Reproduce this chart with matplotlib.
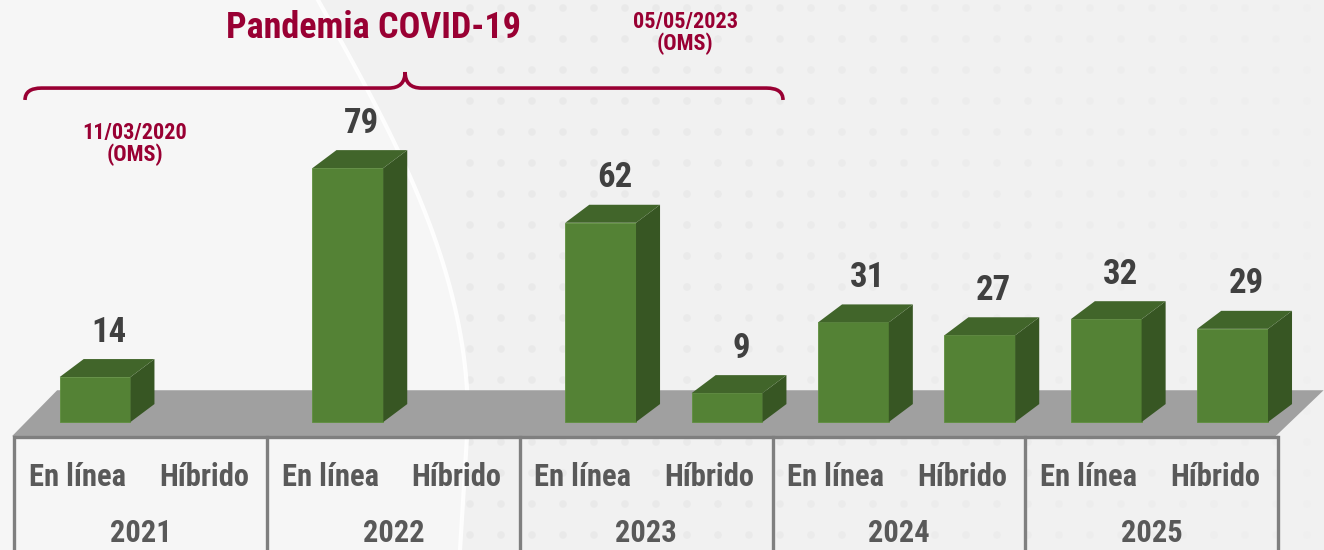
import matplotlib.pyplot as plt
import numpy as np
from matplotlib.patches import Polygon, PathPatch
from matplotlib.path import Path

# data
years = ['2021', '2022', '2023', '2024', '2025']
modes = ['En línea', 'Híbrido']
en_linea = [14, 79, 62, 31, 32]
hibrido = [np.nan, np.nan, 9, 27, 29]

plt.rcParams['font.family'] = ['Liberation Sans Narrow', 'Roboto Condensed',
                               'Liberation Sans', 'DejaVu Sans']
plt.rcParams['font.weight'] = 'bold'

front = '#548235'
side = '#375623'
top = '#41652a'
floor_c = '#a0a0a0'
line_c = '#7f7f7f'
maroon = '#990033'

fig = plt.figure(figsize=(13.24, 5.5), dpi=100)
fig.patch.set_facecolor('#f1f1f1')

# background decoration (pixel coords)
bg = fig.add_axes([0, 0, 1, 1], zorder=0)
bg.set_xlim(0, 1324)
bg.set_ylim(550, 0)
bg.axis('off')
cy = np.linspace(0, 550, 60)
cx = 318 + 150 * np.sin(np.clip(cy / 420, 0, 1) * np.pi / 2) - 8 * np.clip((cy - 420) / 130, 0, 1)
bg.fill_betweenx(cy, 0, cx, color='#f6f6f6', lw=0)
bg.plot(cx, cy, color='white', lw=3, alpha=0.9)
gx, gy = np.meshgrid(np.arange(470, 1324, 31), np.arange(8, 550, 31))
fade = np.clip(1.2 - (gx.ravel() - 470) / 900, 0.2, 1)
bg.scatter(gx.ravel(), gy.ravel(), s=30, color='#e5e5e5', alpha=0.6 * fade, lw=0)

ax = fig.add_axes([0, 0, 1, 1], zorder=1)
ax.patch.set_alpha(0)
ax.set_xlim(-0.752, 9.723)
ax.set_ylim(-39.8, 131.3)
ax.axis('off')

x_on = np.arange(len(years)) * 2
x_hy = x_on + 1
xs = np.concatenate([x_on, x_hy])
vals = np.concatenate([en_linea, hibrido]).astype(float)
has = ~np.isnan(vals)

w = 0.56
dx = 0.19
dy = 5.6

# floor
ax.add_patch(Polygon([(-0.657, -4.4), (9.34, -4.4), (9.72, 9.9), (-0.30, 9.9)],
                     closed=True, color=floor_c, lw=0, zorder=1))

# bars
ax.bar(xs[has], vals[has], width=w, color=front, zorder=3,
       edgecolor='#5f8f3e', linewidth=0.6)
for x, v in zip(xs[has], vals[has]):
    r = x + w / 2
    l = x - w / 2
    ax.add_patch(Polygon([(r, 0), (r + dx, dy), (r + dx, v + dy), (r, v)],
                         closed=True, color=side, lw=0, zorder=3))
    ax.add_patch(Polygon([(l, v), (r, v), (r + dx, v + dy), (l + dx, v + dy)],
                         closed=True, color=top, lw=0, zorder=3))
    ax.text(x + 0.11, v + 14, f'{v:.0f}', ha='center', va='center',
            fontsize=25, color='#404040')

# table below the floor
left = -0.64
ax.plot([left, left + 2 * len(years)], [-4.7, -4.7], color=line_c, lw=2.4,
        zorder=4, solid_capstyle='butt')
for k in range(len(years) + 1):
    ax.plot([left + 2 * k] * 2, [-4.7, -40], color=line_c, lw=2.4, zorder=4)
for g, yr in enumerate(years):
    for m, mode in enumerate(modes):
        ax.text(2 * g + m - 0.14, -17.1, mode, ha='center', va='center',
                fontsize=22, color='#595959')
    ax.text(2 * g + 0.5 - 0.14, -34.5, yr, ha='center', va='center',
            fontsize=22, color='#595959')

# COVID-19 brace and notes
x0, x1, xm = -0.554, 5.443, 2.453
ye, yb, yt = 100.2, 103.9, 108.9
c = 0.13
verts = [(x0, ye), (x0, yb), (x0 + c, yb),
         (xm - c, yb), (xm, yb), (xm, yt),
         (xm, yb), (xm + c, yb),
         (x1 - c, yb), (x1, yb), (x1, ye)]
codes = [Path.MOVETO, Path.CURVE3, Path.CURVE3,
         Path.LINETO, Path.CURVE3, Path.CURVE3,
         Path.CURVE3, Path.CURVE3,
         Path.LINETO, Path.CURVE3, Path.CURVE3]
ax.add_patch(PathPatch(Path(verts, codes), fill=False, edgecolor=maroon,
                       lw=2.6, zorder=4))
ax.text(2.2, 122.5, 'Pandemia COVID-19', ha='center', va='center',
        fontsize=26, color=maroon)
ax.text(4.67, 121.0, '05/05/2023\n(OMS)', ha='center', va='center',
        fontsize=16, color=maroon, linespacing=0.95)
ax.text(0.316, 86.5, '11/03/2020\n(OMS)', ha='center', va='center',
        fontsize=16, color=maroon, linespacing=0.95)

fig.savefig('out.png', dpi=100, facecolor=fig.get_facecolor())
